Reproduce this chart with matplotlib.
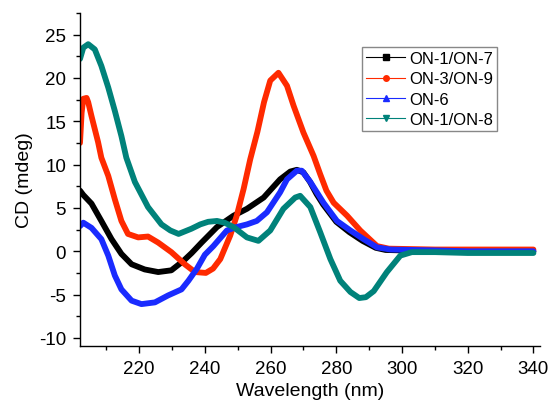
import matplotlib
matplotlib.use("Agg")
import matplotlib.pyplot as plt
from matplotlib.lines import Line2D
from matplotlib.ticker import MultipleLocator

plt.rcParams['font.family'] = ['Liberation Sans', 'DejaVu Sans']
plt.rcParams['axes.unicode_minus'] = False

# ON-1/ON-7
wl_black = [202, 203, 205.5, 208.5, 211.6, 214.6, 217.7, 221.7, 225.8, 229.8, 233.5, 236, 239,
            243.7, 248.7, 252.8, 257.9, 262.9, 266, 268, 270, 272, 274, 276, 280, 284, 288,
            292, 295, 300, 320, 340]
cd_black = [7.0, 6.5, 5.5, 3.5, 1.4, -0.3, -1.5, -2.1, -2.4, -2.2, -1.1, -0.2, 1.0,
            2.8, 4.1, 4.9, 6.2, 8.3, 9.2, 9.4, 9.1, 8.0, 6.6, 5.4, 3.4, 2.2, 1.2,
            0.4, 0.15, 0.1, 0.0, 0.0]

# ON-3/ON-9
wl_red = [202, 202.5, 203, 204, 204.5, 205.5, 206.5, 207.5, 208.5, 210.6, 212.6, 214.6, 216.6,
          219.7, 222.7, 225.8, 229.8, 233.9, 237, 240.3, 242.5, 244.7, 247.7, 249.7, 251.8,
          253.8, 256, 258, 259.9, 262.4, 265, 267, 270, 273.1, 275.1, 277, 279.2, 283.3,
          287.3, 292.4, 296, 310, 340]
cd_red = [12.5, 16.0, 17.6, 17.7, 17.2, 15.6, 14.1, 12.6, 10.8, 8.7, 6.0, 3.5, 2.0,
          1.6, 1.7, 1.0, -0.1, -1.5, -2.4, -2.5, -2.0, -0.9, 1.8, 4.1, 7.2,
          10.6, 13.8, 17.2, 19.7, 20.6, 19.1, 16.8, 13.7, 11.0, 8.9, 7.0, 5.6, 4.1,
          2.4, 0.6, 0.3, 0.2, 0.2]

# ON-6
wl_blue = [202, 203, 205.5, 208.5, 210.6, 212.6, 214.6, 217.7, 220.7, 224.8, 228.8, 232.9,
           235, 237.6, 240, 242.6, 246.7, 249.7, 252.8, 255.8, 258.9, 262.9, 265, 268, 269.5,
           272.1, 276.1, 280.2, 284.3, 288.3, 292.4, 296.5, 310, 320, 340]
cd_blue = [2.9, 3.3, 2.7, 1.4, -0.5, -2.8, -4.4, -5.7, -6.1, -5.9, -5.1, -4.4,
           -3.4, -2.0, -0.4, 0.6, 2.4, 2.8, 3.1, 3.5, 4.5, 6.8, 8.3, 9.3, 9.3,
           8.0, 5.6, 3.5, 2.4, 1.4, 0.45, 0.2, 0.1, 0.0, 0.0]

# ON-1/ON-8
wl_teal = [202, 203, 204.5, 206.5, 208.5, 210.6, 212.6, 214.6, 216.1, 218.7, 222.7, 226.8,
           229.5, 232, 235.9, 238.6, 241, 243.7, 246, 248.7, 252.8, 256.3, 259.9, 263.9,
           267.5, 269, 272.1, 275.1, 278.2, 281.2, 284.3, 287, 289, 291.4, 295.4, 299.5,
           303, 310, 320, 340]
cd_teal = [22.2, 23.5, 23.9, 23.3, 21.4, 18.9, 16.2, 13.3, 10.8, 8.0, 5.1, 3.1,
           2.4, 2.0, 2.6, 3.1, 3.4, 3.5, 3.3, 2.8, 1.6, 1.2, 2.4, 4.9,
           6.2, 6.4, 5.1, 2.2, -0.9, -3.4, -4.7, -5.4, -5.3, -4.6, -2.4, -0.5,
           -0.1, -0.1, -0.2, -0.2]

labels = ['ON-1/ON-7', 'ON-3/ON-9', 'ON-6', 'ON-1/ON-8']
colors = ['#000000', '#ff2a00', '#1a2bff', '#00827a']
markers = ['s', 'o', '^', 'v']
series = [(wl_black, cd_black), (wl_red, cd_red), (wl_blue, cd_blue), (wl_teal, cd_teal)]

fig = plt.figure(figsize=(5.5, 4.1), dpi=100)
ax = fig.add_axes([80 / 550, 1 - 346.7 / 410, 460 / 550, (346.7 - 14) / 410])

for (x, y), c in zip(series, colors):
    ax.plot(x, y, color=c, lw=4.2, solid_joinstyle='round', solid_capstyle='round')

ax.set_xlim(202, 342)
ax.set_ylim(-10.9, 27.5)
ax.xaxis.set_major_locator(MultipleLocator(20))
ax.xaxis.set_minor_locator(MultipleLocator(10))
ax.yaxis.set_major_locator(MultipleLocator(5))
ax.yaxis.set_minor_locator(MultipleLocator(2.5))
ax.tick_params(which='major', direction='out', length=5, width=1, labelsize=13.5, pad=5)
ax.tick_params(which='minor', direction='out', length=3, width=1)
for s in ['top', 'right']:
    ax.spines[s].set_visible(False)
for s in ['left', 'bottom']:
    ax.spines[s].set_linewidth(1)

ax.set_xlabel('Wavelength (nm)', fontsize=14)
ax.set_ylabel('CD (mdeg)', fontsize=14)

handles = [Line2D([], [], color=c, lw=0.8, marker=m, markersize=4, label=l)
           for c, m, l in zip(colors, markers, labels)]
leg = ax.legend(handles=handles, loc='upper right', bbox_to_anchor=(497 / 550, 1 - 48 / 410),
                bbox_transform=fig.transFigure, borderaxespad=0, fontsize=12,
                fancybox=False, framealpha=1, edgecolor='#888888',
                handlelength=2.3, handletextpad=0.25, labelspacing=0.32, borderpad=0.25)
leg.get_frame().set_linewidth(1)

fig.savefig('out.png', dpi=100)
